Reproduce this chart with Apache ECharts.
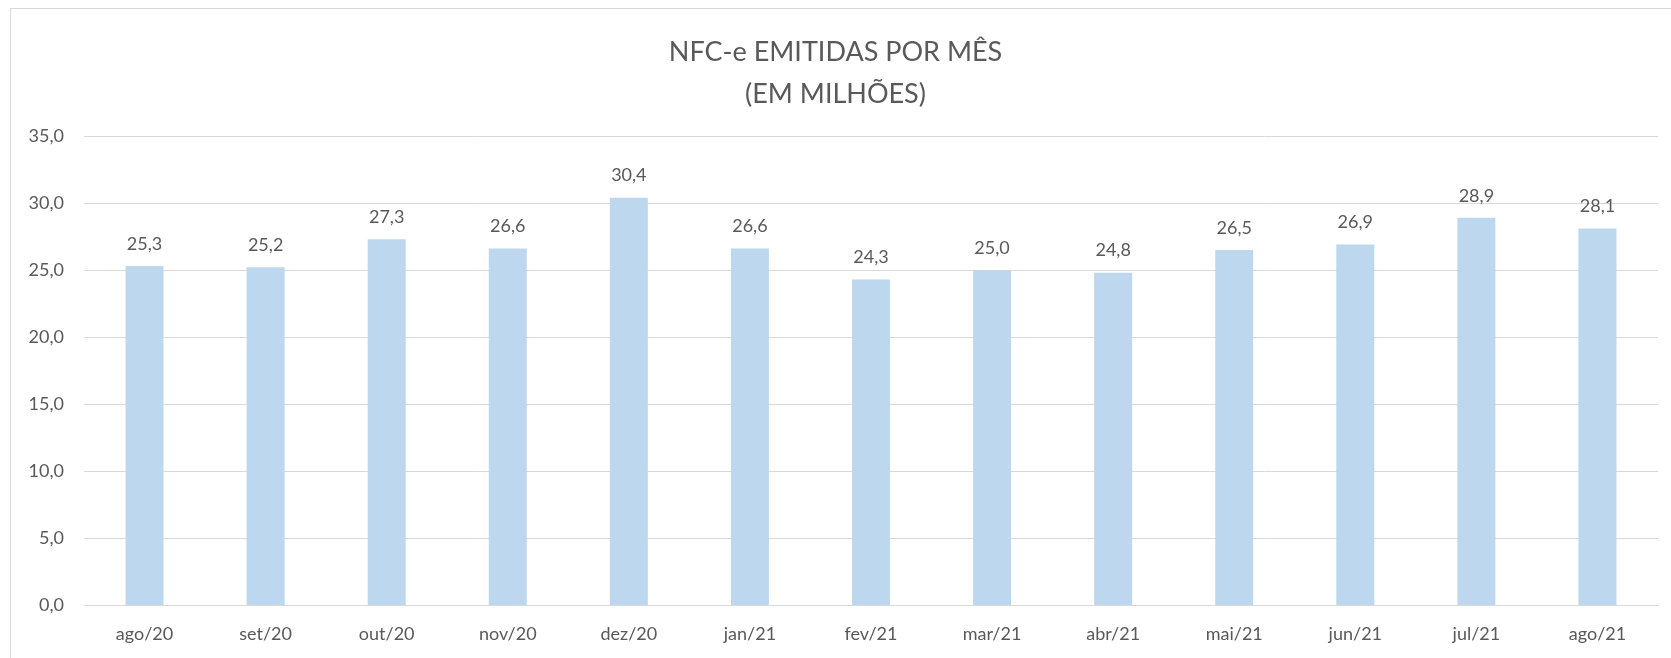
<!DOCTYPE html>
<html>
<head>
<meta charset="utf-8">
<script src="https://cdn.jsdelivr.net/npm/echarts@6/dist/echarts.min.js"></script>
<style>
    html, body { margin: 0; padding: 0; background: #fff; }
    #frame {
        position: absolute; left: 10px; top: 8px; right: 0; bottom: 0;
        border-left: 1px solid #d9d9d9; border-top: 1px solid #d9d9d9;
    }
    #chart { position: absolute; left: 0; top: 0; width: 1671px; height: 658px; }
</style>
</head>
<body>
<div id="frame"></div>
<div id="chart"></div>
<script>
const months = ["ago/20", "set/20", "out/20", "nov/20", "dez/20", "jan/21", "fev/21",
    "mar/21", "abr/21", "mai/21", "jun/21", "jul/21", "ago/21"];
const nfce = [25.3, 25.2, 27.3, 26.6, 30.4, 26.6, 24.3, 25.0, 24.8, 26.5, 26.9, 28.9, 28.1];

const font = "Lato";
const grey = "#595959";

const chart = echarts.init(document.getElementById("chart"), null, { renderer: "canvas" });

const fmt = (v) => v.toFixed(1).replace(".", ",");

chart.setOption({
    animation: false,
    title: {
        text: "NFC-e EMITIDAS POR MÊS\n(EM MILHÕES)",
        left: "center",
        top: 26,
        textStyle: {
            fontFamily: font,
            fontSize: 27,
            fontWeight: "normal",
            color: grey,
            lineHeight: 42,
        },
    },
    grid: { left: 84, right: 13, top: 136, bottom: 53 },
    xAxis: {
        type: "category",
        data: months,
        axisTick: { show: false },
        axisLine: { lineStyle: { color: "#d9d9d9" } },
        axisLabel: { fontFamily: font, fontSize: 18, color: grey, margin: 20 },
    },
    yAxis: {
        type: "value",
        min: 0,
        max: 35,
        interval: 5,
        axisLine: { show: false },
        axisTick: { show: false },
        splitLine: { lineStyle: { color: "#d9d9d9" } },
        axisLabel: {
            fontFamily: font,
            fontSize: 18,
            color: grey,
            margin: 20,
            formatter: fmt,
        },
    },
    series: [
        {
            type: "bar",
            data: nfce,
            barWidth: 38,
            itemStyle: { color: "#bdd7ee" },
            label: {
                show: true,
                position: "top",
                distance: 13,
                fontFamily: font,
                fontSize: 18,
                color: grey,
                formatter: (p) => fmt(p.value),
            },
        },
    ],
});
</script>
</body>
</html>
